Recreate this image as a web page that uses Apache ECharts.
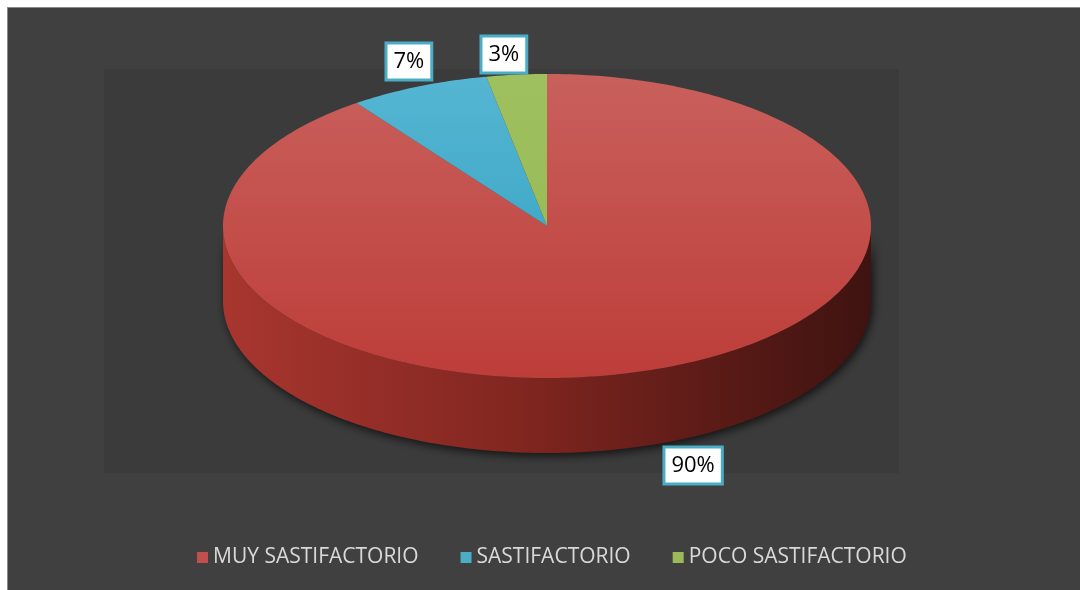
<!DOCTYPE html>
<html>
<head>
<meta charset="utf-8">
<script src="https://cdn.jsdelivr.net/npm/echarts@6/dist/echarts.min.js"></script>
<style>
  html, body { margin: 0; padding: 0; background: #ffffff; }
  #chart { position: absolute; left: 7px; top: 7px; width: 1073px; height: 583px;
           border-top: 1px solid #8a8a8a; border-left: 1px solid #8a8a8a; box-sizing: border-box; }
</style>
</head>
<body>
<div id="chart"></div>
<script>
// Survey results: satisfaction levels
const categories = ['MUY SASTIFACTORIO', 'SASTIFACTORIO', 'POCO SASTIFACTORIO'];
const shares = [90, 7, 3];
const percentLabels = ['90%', '7%', '3%'];

const baseColors = ['#c0504d', '#4bacc6', '#9bbb59'];
const topStops = [
  ['#c9605c', '#bd3d39'],
  ['#55b6d2', '#2e9ec0'],
  ['#9fc05e', '#94b652']
];

// Ellipse geometry of the tilted pie
const cx = 539, cy = 218, rx = 324, ry = 152, depth = 75;
// Label nudges (pixels) per slice, applied after the radial placement
const labelNudge = [[34, 9], [6, 3], [-9, 10]];

const total = shares.reduce((a, b) => a + b, 0);
const deg = Math.PI / 180;

function pt(t, dy) {
  return [cx + rx * Math.cos(t), cy - ry * Math.sin(t) + (dy || 0)];
}

function arcPoints(t0, t1, dy) {
  // from t0 down to t1 (clockwise, t decreasing)
  const pts = [];
  const n = Math.max(2, Math.ceil(Math.abs(t0 - t1) / deg));
  for (let k = 0; k <= n; k++) {
    pts.push(pt(t0 + (t1 - t0) * k / n, dy));
  }
  return pts;
}

function frontSegments(t0, t1) {
  // parts of [t1, t0] lying in the front half (sin t < 0)
  const segs = [];
  for (let k = -2; k <= 1; k++) {
    const lo = -Math.PI + k * 2 * Math.PI, hi = 0 + k * 2 * Math.PI;
    const a = Math.min(t0, hi), b = Math.max(t1, lo);
    if (a > b) segs.push([a, b]);
  }
  return segs;
}

function makeSeries(i) {
  let before = 0;
  for (let j = 0; j < i; j++) before += shares[j];
  return {
    type: 'custom',
    name: categories[i],
    coordinateSystem: 'none',
    itemStyle: { color: baseColors[i] },
    data: [[shares[i]]],
    z: 2,
    renderItem: function (params, api) {
      const v = api.value(0);
      const t0 = (90 - 360 * before / total) * deg;
      const t1 = t0 - 360 * v / total * deg;
      const children = [];

      frontSegments(t0, t1).forEach(function (seg) {
        const topArc = arcPoints(seg[0], seg[1], 0);
        const botArc = arcPoints(seg[0], seg[1], depth).reverse();
        children.push({
          type: 'polygon',
          shape: { points: topArc.concat(botArc) },
          style: {
            fill: new echarts.graphic.LinearGradient(cx - rx, 0, cx + rx, 0, [
              { offset: 0, color: '#a8362f' },
              { offset: 0.45, color: '#822620' },
              { offset: 0.75, color: '#5c1b17' },
              { offset: 1, color: '#3e1310' }
            ], true),
            shadowBlur: 10,
            shadowColor: 'rgba(0,0,0,0.7)',
            shadowOffsetY: 3,
            shadowOffsetX: 2
          },
          z2: 1
        });
      });

      children.push({
        type: 'polygon',
        shape: { points: [[cx, cy]].concat(arcPoints(t0, t1, 0)) },
        style: {
          fill: new echarts.graphic.LinearGradient(0, cy - ry, 0, cy + ry, [
            { offset: 0, color: topStops[i][0] },
            { offset: 1, color: topStops[i][1] }
          ], true),
          lineWidth: 0
        },
        z2: 2
      });

      const tm = (t0 + t1) / 2;
      const front = Math.sin(tm) < 0;
      const p = pt(tm, front ? depth : 0);
      const lx = cx + (p[0] - cx) * 1.12 + labelNudge[i][0];
      const ly = cy + (p[1] - cy) * (front ? 1.05 : 1.2) + labelNudge[i][1];
      children.push({
        type: 'text',
        style: {
          text: percentLabels[i],
          x: lx, y: ly,
          align: 'center', verticalAlign: 'middle',
          fill: '#000000',
          font: '22px "Open Sans", sans-serif',
          backgroundColor: '#ffffff',
          borderColor: '#4bacc6',
          borderWidth: 3,
          padding: [7, 6, 5, 6]
        },
        z2: 10
      });

      return { type: 'group', children: children };
    }
  };
}

const chart = echarts.init(document.getElementById('chart'));
chart.setOption({
  backgroundColor: '#404040',
  animation: false,
  graphic: [{
    type: 'rect',
    shape: { x: 96, y: 61, width: 795, height: 404 },
    style: { fill: '#3b3b3b' },
    z: 0
  }],
  legend: {
    data: categories,
    bottom: 17,
    left: 184,
    icon: 'rect',
    itemWidth: 11,
    itemHeight: 11,
    itemGap: 42,
    textStyle: { color: '#d9d9d9', fontSize: 21, fontFamily: '"Open Sans", sans-serif' }
  },
  series: [makeSeries(0), makeSeries(1), makeSeries(2)]
});
</script>
</body>
</html>
